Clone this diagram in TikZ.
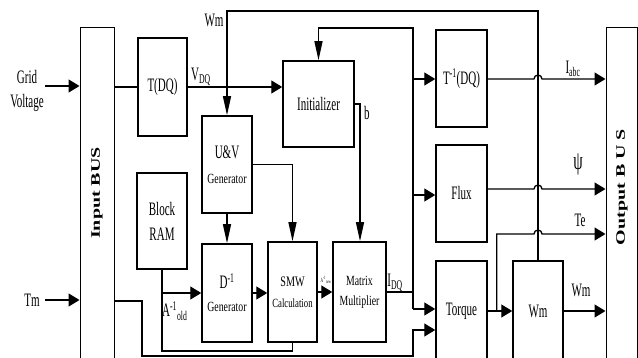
\documentclass[tikz,border=0pt]{standalone}
\usepackage{fontspec}
\setmainfont{Liberation Serif}[FakeStretch=0.58]
\newfontfamily\midfont{Liberation Serif}[FakeStretch=0.7]
\newfontfamily\busfont{Liberation Serif}
\usetikzlibrary{arrows.meta}

\tikzset{
  blk/.style={draw, line width=1.5pt, inner sep=0pt, align=center, font=\fontsize{19}{25}\selectfont},
  bus/.style={draw, line width=1pt, inner sep=0pt},
  wire/.style={line width=1.3pt},
  harr/.style={wire, -{Triangle[length=11pt, width=13pt]}},
  varr/.style={wire, -{Triangle[length=19pt, width=8pt]}},
  lbl/.style={inner sep=0pt, font=\fontsize{19}{24}\selectfont},
  buslbl/.style={inner sep=0pt, rotate=90, font=\busfont\bfseries\fontsize{20}{22}\selectfont},
}

\begin{document}
\begin{tikzpicture}[x=1pt, y=-1pt]
  \useasboundingbox (0, 0) rectangle (638, 358);

  % Buses
  \node [bus, minimum width=34, minimum height=334] (inbus) at (97, 195) {};
  \node [bus, minimum width=31, minimum height=334] (outbus) at (621.5, 195) {};
  \node [buslbl] (inbuslbl) at (97, 193) {\scalebox{1}[0.65]{Input BUS}};
  \node [buslbl] (outbuslbl) at (622, 187) {\scalebox{1}[0.65]{Output B U S}};

  % Blocks
  \node [blk, minimum width=49, minimum height=98] (tdq) at (162.5, 87) {T(DQ)};
  \node [blk, minimum width=71, minimum height=86] (init) at (318.5, 104) {Initializer};
  \node [blk, minimum width=50, minimum height=97] (uv) at (227, 164.5)
    {U\&V\\{\midfont\fontsize{14}{26}\selectfont Generator}};
  \node [blk, minimum width=50, minimum height=96] (ram) at (162, 221) {Block\\RAM};
  \node [blk, minimum width=50, minimum height=98] (dgen) at (227, 293)
    {D\textsuperscript{-1}\\[-2pt]{\midfont\fontsize{14}{25}\selectfont Generator}};
  \node [blk, minimum width=49, minimum height=100, font=\midfont\fontsize{14.5}{21}\selectfont] (smw) at (292.5, 292)
    {SMW\\{\fontsize{12.5}{21}\selectfont Calculation}};
  \node [blk, minimum width=53, minimum height=100, font=\midfont\fontsize{14}{20}\selectfont] (mm) at (359.5, 292)
    {Matrix\\Multiplier};
  \node [blk, minimum width=51, minimum height=97] (tinv) at (461.5, 78.5) {T\textsuperscript{-1}(DQ)};
  \node [blk, minimum width=51, minimum height=97] (flux) at (461.5, 193.5) {Flux};
  \node [blk, minimum width=51, minimum height=100] (torque) at (461.5, 311) {Torque};
  \node [blk, minimum width=50, minimum height=100] (wmb) at (538, 311) {Wm};

  % Inputs
  \node [lbl, align=center] (grid) at (27, 91) {Grid\\Voltage};
  \coordinate (gridin) at (45, 86);
  \draw [harr] (gridin) -- (inbus.west |- gridin);
  \node [lbl] (tm) at (32, 300) {Tm};
  \coordinate (tmin) at (45, 300);
  \draw [harr] (tmin) -- (inbus.west |- tmin);

  % Front end
  \draw [wire] (inbus.east |- tdq.west) -- (tdq.west);
  \draw [harr] (tdq.east) -- (init.west |- tdq.east);
  \node [lbl] (vdq) at (201, 77) {V\textsubscript{DQ}};

  % Speed feedback to the U&V generator
  \coordinate (wmtop) at (538, 11);
  \draw [varr] (wmb.north) -- (wmb.north |- wmtop) -- (uv.north |- wmtop) -- (uv.north);
  \node [lbl] (wmfb) at (214, 20) {Wm};

  % Solver
  \draw [varr] (uv.south) -- (dgen.north);
  \draw [varr] (uv.east) -- (smw.north |- uv.east) -- (smw.north);
  \draw [harr] (dgen.east) -- (smw.west |- dgen.east);
  \draw [harr] (smw.east) -- (mm.west |- smw.east);
  \node [inner sep=0pt, font=\fontsize{6}{7}\selectfont] (anew) at (326, 280) {A\textsuperscript{-1}\textsubscript{new}};
  \coordinate (bpt) at (360, 104);
  \draw [varr] (init.east) -- (bpt) -- (bpt |- mm.north);
  \node [lbl] (b) at (367, 113) {b};

  % Block RAM
  \coordinate (ramb) at (162, 351);
  \draw [wire] (ram.south) -- (ramb) -- (smw.south |- ramb) -- (smw.south);
  \draw [harr] (ram.south |- dgen.west) -- (dgen.west);
  \node [lbl, anchor=west] (aold) at (162, 311) {A\textsuperscript{-1}\textsubscript{old}};

  % I_DQ bus
  \coordinate (iq) at (413, 292);
  \coordinate (iqtop) at (413, 28);
  \coordinate (iqlow) at (413, 309);
  \draw [wire] (mm.east) -- (iq);
  \draw [varr] (iqlow) -- (iqtop) -- (init.north |- iqtop) -- (init.north);
  \foreach \b/\y in {tinv/79, flux/195, torque/309} {
    \coordinate (br) at (413, \y);
    \draw [harr] (br) -- (\b.west |- br);
  }
  \node [lbl] (idq) at (395, 283) {I\textsubscript{DQ}};

  % Tm to torque
  \coordinate (tm1) at (142, 301);
  \coordinate (tm2) at (142, 356);
  \coordinate (tm3) at (413, 356);
  \coordinate (tm4) at (413, 330);
  \draw [harr] (inbus.east |- tm1) -- (tm1) -- (tm2) -- (tm3) -- (tm4) -- (torque.west |- tm4);

  % Outputs
  \coordinate (jmpl) at (534, 0);
  \coordinate (yabc) at (0, 79);
  \coordinate (ypsi) at (0, 189);
  \coordinate (yte) at (0, 234);
  \draw [harr] (tinv.east |- yabc) -- (jmpl |- yabc)
    arc [start angle=180, end angle=0, radius=4pt] -- (outbus.west |- yabc);
  \draw [harr] (flux.east |- ypsi) -- (jmpl |- ypsi)
    arc [start angle=180, end angle=0, radius=4pt] -- (outbus.west |- ypsi);
  \draw [harr] (torque.east) -- (wmb.west);
  \coordinate (tesplit) at ([xshift=9pt]torque.east);
  \draw [harr] (tesplit) -- (tesplit |- yte) -- (jmpl |- yte)
    arc [start angle=180, end angle=0, radius=4pt] -- (outbus.west |- yte);
  \draw [harr] (wmb.east) -- (outbus.west |- wmb.east);
  \node [lbl] (iabc) at (573, 69) {I\textsubscript{abc}};
  \node [lbl, font=\fontsize{26}{26}\selectfont] (psi) at (578, 164) {ψ};
  \node [lbl] (te) at (580, 220) {Te};
  \node [lbl] (wmout) at (581, 290) {Wm};

\end{tikzpicture}
\end{document}
